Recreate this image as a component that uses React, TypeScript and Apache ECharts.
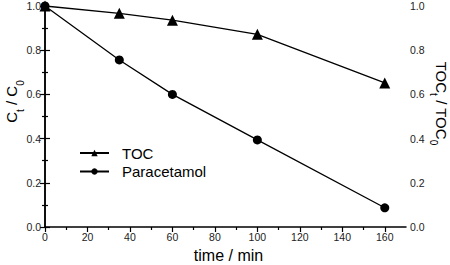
import React, { useEffect, useRef } from "react";
import * as echarts from "echarts";

const times = [0, 35, 60, 100, 160];
const tocValues = [1.0, 0.967, 0.936, 0.872, 0.652];
const paracetamolValues = [1.0, 0.756, 0.6, 0.394, 0.087];
const seriesNames = ["TOC", "Paracetamol"];
const xMajorTicks = [0, 20, 40, 60, 80, 100, 120, 140, 160];
const xMinorTicks = [10, 30, 50, 70, 90, 110, 130, 150];

const FONT = "Liberation Sans, Arial, sans-serif";

export default function App() {
  const ref = useRef<HTMLDivElement>(null);
  useEffect(() => {
    if (!ref.current) return;
    const chart = echarts.init(ref.current, undefined, { renderer: "svg" });
    const lineStyle = { color: "#000", width: 1.5 };
    const richName = {
      a: { fontSize: 15, fontFamily: FONT, color: "#000" },
      s: { fontSize: 10, fontFamily: FONT, color: "#000", verticalAlign: "bottom" as const, padding: [0, 0, -6, 0] },
    };
    const yAxisBase = (pos: "left" | "right") => ({
      type: "value" as const,
      position: pos,
      min: 0,
      max: 1,
      interval: 0.2,
      axisLine: { show: true, lineStyle },
      axisTick: { show: true, inside: false, length: 5, lineStyle: { color: "#000", width: 1.2 } },
      minorTick: { show: true, splitNumber: 2, length: 3, lineStyle: { color: "#000", width: 1.2 } },
      splitLine: { show: false },
      axisLabel: {
        formatter: (v: number) => v.toFixed(1),
        fontSize: 10.5,
        fontFamily: FONT,
        color: "#222",
        margin: 4,
      },
      nameLocation: "middle" as const,
      nameMoveOverlap: false,
    });
    chart.setOption({
      animation: false,
      grid: { left: 45, right: 44, top: 6, bottom: 38, containLabel: false, outerBoundsMode: "none" },
      xAxis: [
        {
          type: "value",
          position: "bottom",
          min: 0,
          max: 170,
          interval: 10,
          axisLine: { show: true, lineStyle },
          axisTick: { show: true, inside: false, length: 5, customValues: xMajorTicks, lineStyle: { color: "#000", width: 1.2 } },
          axisLabel: { customValues: xMajorTicks, fontSize: 10.5, fontFamily: FONT, color: "#222", margin: 4 },
          splitLine: { show: false },
          name: "time / min",
          nameLocation: "middle",
          nameMoveOverlap: false,
          nameGap: 20,
          nameTextStyle: { fontSize: 16, fontFamily: FONT, color: "#000", padding: [0, 0, 0, 6] },
        },
        {
          type: "value",
          position: "bottom",
          min: 0,
          max: 170,
          interval: 10,
          axisLine: { show: false },
          axisTick: { show: true, inside: false, length: 3, customValues: xMinorTicks, lineStyle: { color: "#000", width: 1.2 } },
          axisLabel: { show: false },
          splitLine: { show: false },
        },
      ],
      yAxis: [
        {
          ...yAxisBase("left"),
          name: "{a|C}{s|t}{a| / C}{s|0}",
          nameRotate: 90,
          nameGap: 26,
          nameTextStyle: { rich: richName, padding: [0, 0, 0, 30] },
        },
        {
          ...yAxisBase("right"),
          name: "{a|TOC}{s|t}{a| / TOC}{s|0}",
          nameRotate: -90,
          nameGap: 28,
          nameTextStyle: { rich: richName, padding: [0, 26, 0, 0] },
        },
      ],
      legend: {
        orient: "vertical",
        left: 79,
        top: 145,
        padding: 0,
        itemWidth: 29,
        itemHeight: 8,
        itemGap: 2.5,
        textStyle: { fontSize: 15, lineHeight: 16, fontFamily: FONT, color: "#000", padding: [0, 0, 0, 8] },
        data: seriesNames,
      },
      series: [
        {
          name: seriesNames[0],
          type: "line",
          data: times.map((t, i) => [t, tocValues[i]]),
          symbol: "triangle",
          symbolSize: 11,
          lineStyle: { color: "#000", width: 1.3 },
          itemStyle: { color: "#000" },
        },
        {
          name: seriesNames[1],
          type: "line",
          data: times.map((t, i) => [t, paracetamolValues[i]]),
          symbol: "circle",
          symbolSize: 9,
          lineStyle: { color: "#000", width: 1.3 },
          itemStyle: { color: "#000" },
        },
      ],
    });
    return () => chart.dispose();
  }, []);
  return <div ref={ref} style={{ width: 450, height: 265, position: "absolute", left: 0, top: 0, background: "#fff" }} />;
}
